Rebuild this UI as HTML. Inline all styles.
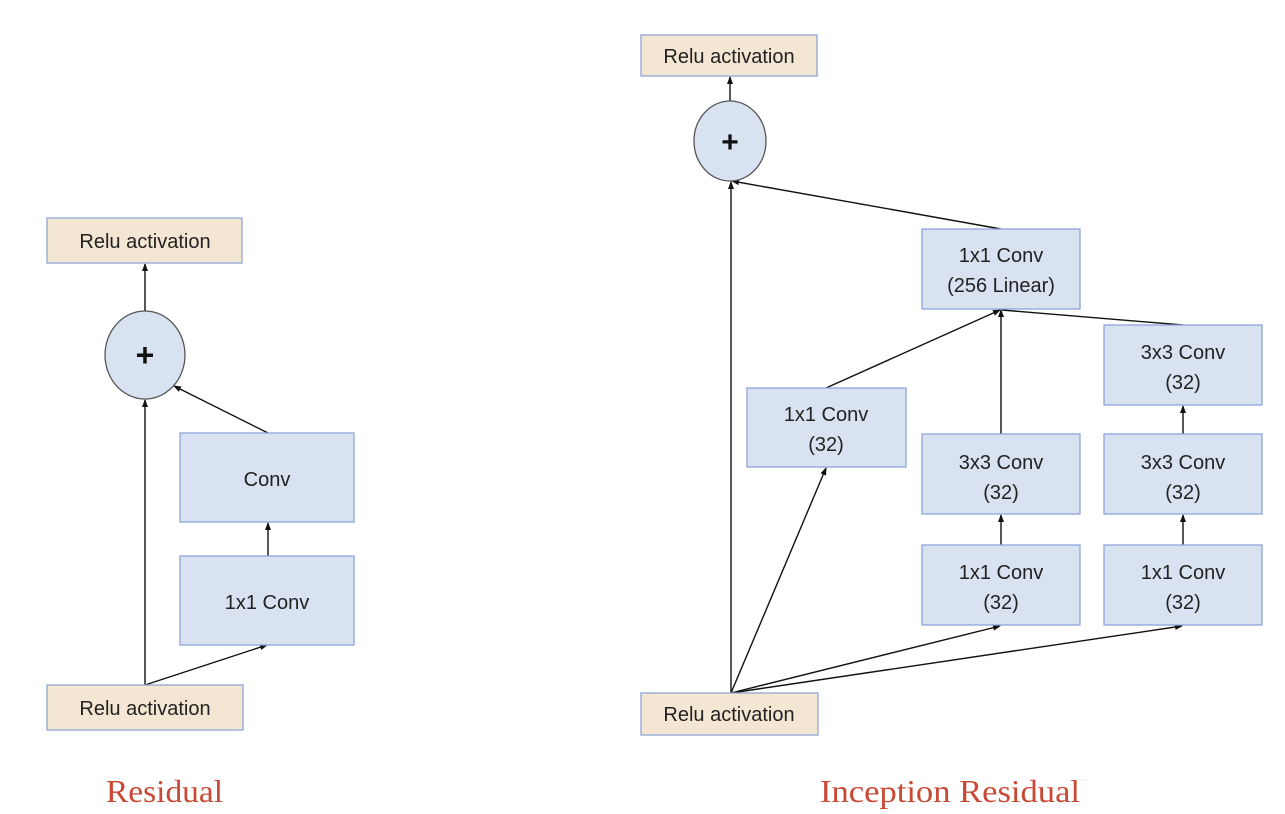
<!DOCTYPE html>
<html><head><meta charset="utf-8"><style>
html,body{margin:0;padding:0;background:#fff;}
svg{display:block;}
.b{fill:#d9e2f1;stroke:#8fa6d9;stroke-width:1.3;}
.r{fill:#f3e6d3;stroke:#8fa6d9;stroke-width:1.3;}
.t{font-family:"Liberation Sans",sans-serif;font-size:20px;fill:#222;text-anchor:middle;}
.l{stroke:#111;stroke-width:1.4;fill:none;}
.c{font-family:"Liberation Serif",serif;font-size:32px;fill:#c84a35;}
</style></head><body>
<svg width="1285" height="814" viewBox="0 0 1285 814" xmlns="http://www.w3.org/2000/svg">
<defs><marker id="a" markerWidth="8" markerHeight="8" refX="7" refY="4" orient="auto" markerUnits="userSpaceOnUse"><path d="M0,1 L8,4 L0,7 z" fill="#111"/></marker></defs>
<!-- Left -->
<line class="l" x1="145" y1="685" x2="145" y2="400" marker-end="url(#a)"/>
<line class="l" x1="145" y1="685" x2="267" y2="645" marker-end="url(#a)"/>
<line class="l" x1="268" y1="556" x2="268" y2="523" marker-end="url(#a)"/>
<line class="l" x1="268" y1="433" x2="174" y2="386" marker-end="url(#a)"/>
<line class="l" x1="145" y1="311" x2="145" y2="264" marker-end="url(#a)"/>
<rect class="r" x="47" y="218" width="195" height="45"/>
<text class="t" x="145" y="248">Relu activation</text>
<ellipse cx="145" cy="355" rx="40" ry="44" fill="#d9e2f1" stroke="#555" stroke-width="1.3"/>
<text x="145" y="366" text-anchor="middle" font-family="Liberation Sans" font-weight="bold" font-size="32" fill="#111">+</text>
<rect class="b" x="180" y="433" width="174" height="89"/>
<text class="t" x="267" y="486">Conv</text>
<rect class="b" x="180" y="556" width="174" height="89"/>
<text class="t" x="267" y="609">1x1 Conv</text>
<rect class="r" x="47" y="685" width="196" height="45"/>
<text class="t" x="145" y="715">Relu activation</text>
<!-- Right -->
<line class="l" x1="731" y1="693" x2="731" y2="182" marker-end="url(#a)"/>
<line class="l" x1="731" y1="693" x2="826" y2="468" marker-end="url(#a)"/>
<line class="l" x1="731" y1="693" x2="1000" y2="626" marker-end="url(#a)"/>
<line class="l" x1="731" y1="693" x2="1182" y2="626" marker-end="url(#a)"/>
<line class="l" x1="1001" y1="545" x2="1001" y2="515" marker-end="url(#a)"/>
<line class="l" x1="1001" y1="434" x2="1001" y2="310" marker-end="url(#a)"/>
<line class="l" x1="826" y1="388" x2="1000" y2="310" marker-end="url(#a)"/>
<line class="l" x1="1183" y1="325" x2="1002" y2="310"/>
<line class="l" x1="1183" y1="545" x2="1183" y2="515" marker-end="url(#a)"/>
<line class="l" x1="1183" y1="434" x2="1183" y2="406" marker-end="url(#a)"/>
<line class="l" x1="1001" y1="229" x2="732" y2="181" marker-end="url(#a)"/>
<line class="l" x1="730" y1="101" x2="730" y2="77" marker-end="url(#a)"/>
<rect class="r" x="641" y="35" width="176" height="41"/>
<text class="t" x="729" y="63">Relu activation</text>
<ellipse cx="730" cy="141" rx="36" ry="40" fill="#d9e2f1" stroke="#555" stroke-width="1.3"/>
<text x="730" y="152" text-anchor="middle" font-family="Liberation Sans" font-weight="bold" font-size="30" fill="#111">+</text>
<rect class="b" x="922" y="229" width="158" height="80"/>
<text class="t" x="1001" y="262">1x1 Conv</text><text class="t" x="1001" y="292">(256 Linear)</text>
<rect class="b" x="747" y="388" width="159" height="79"/>
<text class="t" x="826" y="421">1x1 Conv</text><text class="t" x="826" y="451">(32)</text>
<rect class="b" x="922" y="434" width="158" height="80"/>
<text class="t" x="1001" y="469">3x3 Conv</text><text class="t" x="1001" y="499">(32)</text>
<rect class="b" x="922" y="545" width="158" height="80"/>
<text class="t" x="1001" y="579">1x1 Conv</text><text class="t" x="1001" y="609">(32)</text>
<rect class="b" x="1104" y="325" width="158" height="80"/>
<text class="t" x="1183" y="359">3x3 Conv</text><text class="t" x="1183" y="389">(32)</text>
<rect class="b" x="1104" y="434" width="158" height="80"/>
<text class="t" x="1183" y="469">3x3 Conv</text><text class="t" x="1183" y="499">(32)</text>
<rect class="b" x="1104" y="545" width="158" height="80"/>
<text class="t" x="1183" y="579">1x1 Conv</text><text class="t" x="1183" y="609">(32)</text>
<rect class="r" x="641" y="693" width="177" height="42"/>
<text class="t" x="729" y="721">Relu activation</text>
<!-- captions -->
<text class="c" x="106" y="802" textLength="117" lengthAdjust="spacingAndGlyphs">Residual</text>
<text class="c" x="820" y="802" textLength="260" lengthAdjust="spacingAndGlyphs">Inception Residual</text>
</svg>
</body></html>
